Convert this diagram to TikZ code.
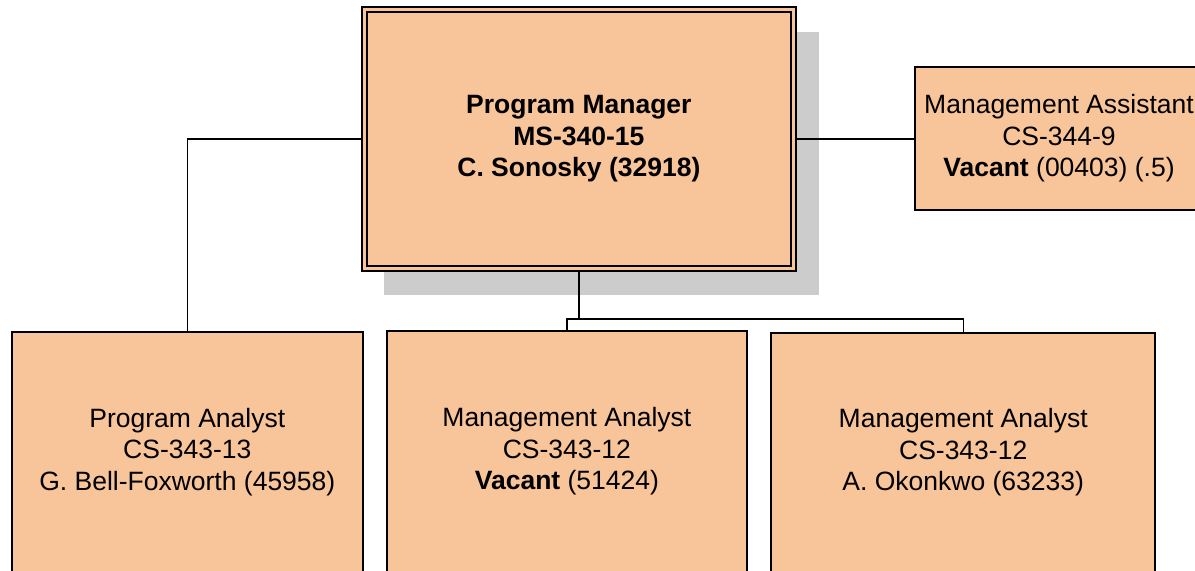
\documentclass[tikz,border=0pt]{standalone}
\usepackage{fontspec}
\setmainfont{Liberation Sans}
\usetikzlibrary{shadows}

\definecolor{peach}{RGB}{248,196,153}
\tikzset{
  post/.style={draw, line width=1pt, fill=peach, align=center, inner sep=0pt,
    font=\fontsize{13.25}{15.8}\selectfont},
  boss/.style={post, double=peach, double distance=1.5pt, line width=0.9pt,
    font=\fontsize{13.25}{15.8}\selectfont\bfseries,
    drop shadow={shadow xshift=11pt, shadow yshift=-12pt, shadow scale=1.015,
      fill=black!20, opacity=1}},
  link/.style={line width=0.75pt}
}

\begin{document}
\begin{tikzpicture}[x=0.5pt, y=-0.5pt]
    \useasboundingbox (0,0) rectangle (1195,570);
    \clip (0,0) rectangle (1195,570);
    \node (pm) [boss, minimum width=214.4pt, minimum height=129.5pt] at (578.9,138.8) {Program Manager\\MS-340-15\\C. Sonosky (32918)};
    \node (ma) [post, minimum width=144pt, minimum height=71.5pt] at (1059,138.5) {Management Assistant\\CS-344-9\\\textbf{Vacant} (00403) (.5)};
    \node (pa) [post, minimum width=175.25pt, minimum height=120.25pt] at (187.3,451.8) {Program Analyst\\CS-343-13\\G. Bell-Foxworth (45958)};
    \node (mb) [post, minimum width=179.85pt, minimum height=120.5pt] at (566.9,451.5) {Management Analyst\\CS-343-12\\\textbf{Vacant} (51424)};
    \node (mc) [post, minimum width=192.15pt, minimum height=119.5pt] at (963.2,452.5) {Management Analyst\\CS-343-12\\A. Okonkwo (63233)};
    \coordinate (bus) at (578.9,319);
    %\node at (bus) {};
    \draw [link, shorten <=1.4pt] (pm.west) -| (pa.north);
    \draw [link, shorten <=1.4pt] (pm.east) -- (pm.east -| ma.west);
    \draw [link, shorten <=1.4pt] (pm.south) -- (bus);
    \draw [line width=0.6pt] (mb.north) -- (mb.north |- bus) -- (mc.north |- bus) -- (mc.north);
\end{tikzpicture}
\end{document}
